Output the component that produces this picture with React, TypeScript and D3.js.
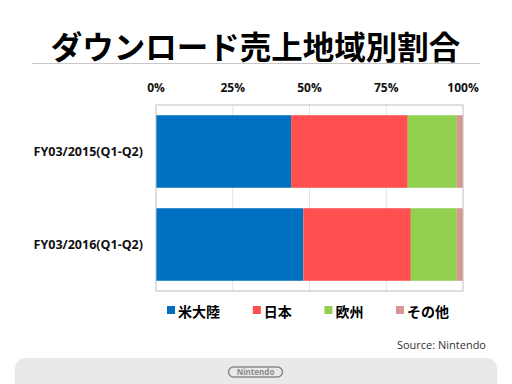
import * as d3 from "d3";

const categories = ["FY03/2015(Q1-Q2)", "FY03/2016(Q1-Q2)"];
const regions = ["米大陸", "日本", "欧州", "その他"];
const americas = [44, 48];
const japan = [38, 35];
const europe = [16, 15];
const others = [2, 2];
const tickLabels = ["0%", "25%", "50%", "75%", "100%"];
const colors = ["#0070C0", "#FF4F4F", "#92D050", "#D99594"];

const W = 512;
const H = 384;
const sans = "'Open Sans', 'Noto Sans CJK JP', sans-serif";
const jp = "'Noto Sans CJK JP', sans-serif";

export default function App() {
  const rows = categories.map((c, i) => ({
    cat: c,
    [regions[0]]: americas[i],
    [regions[1]]: japan[i],
    [regions[2]]: europe[i],
    [regions[3]]: others[i],
  }));
  const stacked = d3.stack<any>().keys(regions)(rows);

  const x = d3.scaleLinear().domain([0, 100]).range([156, 463]);
  const y = d3.scaleBand().domain(categories).range([105, 291]).paddingInner(0.22).paddingOuter(0.11);
  const ticks = [0, 25, 50, 75, 100];

  // legend item offsets from label length
  const legendFont = 14;
  const legendPos: number[] = [];
  let lx = 167;
  regions.forEach((r) => {
    legendPos.push(lx);
    lx += 11 + r.length * legendFont * 1.02 + 32;
  });

  return (
    <svg width={W} height={H} style={{ position: "absolute", left: 0, top: 0, background: "#fff" }}>
      {/* title */}
      <text x={255.5} y={59} textAnchor="middle" fontFamily={jp} fontWeight={700} fontSize={31.5} fill="#000">
        ダウンロード売上地域別割合
      </text>
      <line x1={32} x2={480} y1={63.5} y2={63.5} stroke="#c8c8c8" strokeWidth={1} />

      {/* tick labels */}
      {ticks.map((t, i) => (
        <text key={t} x={x(t)} y={92} textAnchor="middle" fontFamily={sans} fontWeight={700} fontSize={12} fill="#111">
          {tickLabels[i]}
        </text>
      ))}

      {/* grid */}
      {ticks.slice(1, -1).map((t) => (
        <line key={t} x1={x(t)} x2={x(t)} y1={105} y2={291} stroke="#e3e3e3" strokeWidth={1} />
      ))}

      {/* bars */}
      {stacked.map((s, si) => (
        <g key={s.key} fill={colors[si]}>
          {s.map((d, i) => (
            <rect
              key={i}
              x={x(d[0])}
              y={y(categories[i])!}
              width={x(d[1]) - x(d[0])}
              height={y.bandwidth()}
            />
          ))}
        </g>
      ))}

      <rect x={156} y={105} width={307} height={186} fill="none" stroke="#bfbfbf" strokeWidth={1} />

      {/* category labels */}
      {categories.map((c) => (
        <text key={c} x={143} y={y(c)! + y.bandwidth() / 2 + 4.5} textAnchor="end" fontFamily={sans} fontWeight={700} fontSize={12.5} fill="#111">
          {c}
        </text>
      ))}

      {/* legend */}
      {regions.map((r, i) => (
        <g key={r} transform={`translate(${legendPos[i]},306)`}>
          <rect width={8} height={8} fill={colors[i]} />
          <text x={11} y={10.5} fontFamily={jp} fontWeight={700} fontSize={legendFont} fill="#000">
            {r}
          </text>
        </g>
      ))}

      <text x={486} y={349} textAnchor="end" fontFamily={sans} fontSize={11} fill="#333">
        Source: Nintendo
      </text>

      {/* footer */}
      <rect x={15} y={358} width={482} height={40} rx={10} fill="#e9e9e9" />
      <rect x={228.5} y={367} width={54} height={10} rx={5} fill="none" stroke="#8a8a8a" strokeWidth={1.5} />
      <text x={255.5} y={375} textAnchor="middle" fontFamily={sans} fontWeight={700} fontSize={8} fill="#8a8a8a">
        Nintendo
      </text>
    </svg>
  );
}
